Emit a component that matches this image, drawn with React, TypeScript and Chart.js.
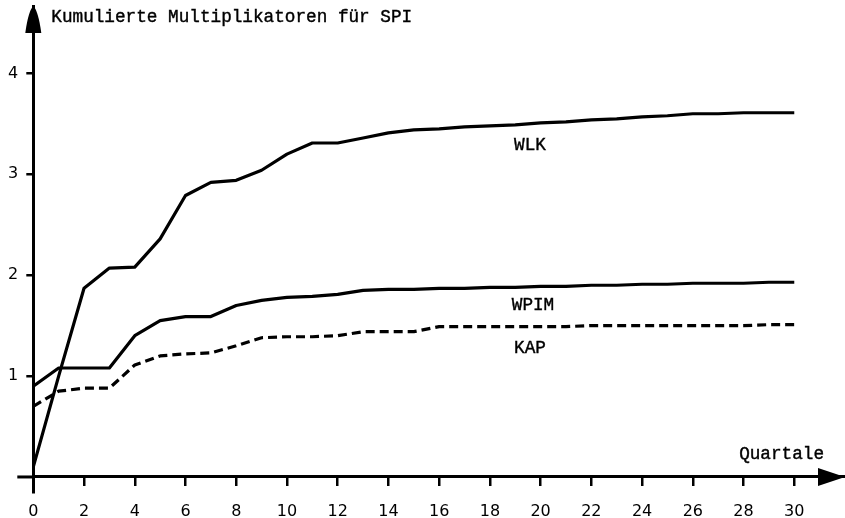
import React, { useEffect, useRef } from "react";
import { Chart, registerables } from "chart.js";

Chart.register(...registerables);

const quarters = [0, 1, 2, 3, 4, 5, 6, 7, 8, 9, 10, 11, 12, 13, 14, 15, 16, 17, 18, 19, 20, 21, 22, 23, 24, 25, 26, 27, 28, 29, 30];
const wlk = [0.1, 1.0, 1.87, 2.07, 2.08, 2.36, 2.79, 2.92, 2.94, 3.04, 3.2, 3.31, 3.31, 3.36, 3.41, 3.44, 3.45, 3.47, 3.48, 3.49, 3.51, 3.52, 3.54, 3.55, 3.57, 3.58, 3.6, 3.6, 3.61, 3.61, 3.61];
const wpim = [0.9, 1.08, 1.08, 1.08, 1.4, 1.55, 1.59, 1.59, 1.7, 1.75, 1.78, 1.79, 1.81, 1.85, 1.86, 1.86, 1.87, 1.87, 1.88, 1.88, 1.89, 1.89, 1.9, 1.9, 1.91, 1.91, 1.92, 1.92, 1.92, 1.93, 1.93];
const kap = [0.7, 0.85, 0.88, 0.88, 1.11, 1.2, 1.22, 1.23, 1.3, 1.38, 1.39, 1.39, 1.4, 1.44, 1.44, 1.44, 1.49, 1.49, 1.49, 1.49, 1.49, 1.49, 1.5, 1.5, 1.5, 1.5, 1.5, 1.5, 1.5, 1.51, 1.51];
const xTicks = [0, 2, 4, 6, 8, 10, 12, 14, 16, 18, 20, 22, 24, 26, 28, 30];
const yTicks = [1, 2, 3, 4];
const title = "Kumulierte Multiplikatoren für SPI";
const xTitle = "Quartale";
const seriesLabels = [
  { text: "WLK", x: 19.58, y: 3.29 },
  { text: "WPIM", x: 19.7, y: 1.7 },
  { text: "KAP", x: 19.58, y: 1.28 },
];

const MONO = '17.7px "Liberation Mono", "DejaVu Sans Mono", monospace';

const axisDecor = {
  id: "axisDecor",
  afterDraw(chart: any) {
    const ctx = chart.ctx;
    const xs = chart.scales.x;
    const ys = chart.scales.y;
    const ca = chart.chartArea;
    const x0 = xs.getPixelForValue(0);
    const y0 = ys.getPixelForValue(0);
    ctx.save();
    ctx.fillStyle = "#000";
    ctx.strokeStyle = "#000";
    // x-axis stub left of the origin
    ctx.lineWidth = 3;
    ctx.beginPath();
    ctx.moveTo(x0 - 16, y0);
    ctx.lineTo(x0, y0);
    ctx.stroke();
    // y-axis arrow
    ctx.beginPath();
    ctx.moveTo(x0, ca.top);
    ctx.quadraticCurveTo(x0 + 5, ca.top + 5, x0 + 8, ca.top + 27);
    ctx.lineTo(x0 - 8, ca.top + 27);
    ctx.quadraticCurveTo(x0 - 5, ca.top + 5, x0, ca.top);
    ctx.closePath();
    ctx.fill();
    // x-axis arrow
    ctx.beginPath();
    ctx.moveTo(ca.right, y0);
    ctx.lineTo(ca.right - 27, y0 - 9);
    ctx.lineTo(ca.right - 27, y0 + 9);
    ctx.closePath();
    ctx.fill();
    // texts
    ctx.font = MONO;
    ctx.lineWidth = 0.4;
    ctx.textBaseline = "middle";
    ctx.textAlign = "left";
    ctx.fillText(title, x0 + 18, ca.top + 11);
    ctx.strokeText(title, x0 + 18, ca.top + 11);
    ctx.textAlign = "center";
    const tx = xs.getPixelForValue(29.5);
    const ty = ys.getPixelForValue(0.22);
    ctx.fillText(xTitle, tx, ty);
    ctx.strokeText(xTitle, tx, ty);
    for (const l of seriesLabels) {
      const px = xs.getPixelForValue(l.x);
      const py = ys.getPixelForValue(l.y);
      ctx.fillText(l.text, px, py);
      ctx.strokeText(l.text, px, py);
    }
    ctx.restore();
  },
};

export default function App() {
  const ref = useRef<HTMLCanvasElement>(null);
  useEffect(() => {
    document.body.style.margin = "0";
    const line = (data: number[], dash: number[]) => ({
      data: quarters.map((q, i) => ({ x: q, y: data[i] })),
      borderColor: "#000",
      borderWidth: 3.2,
      borderDash: dash,
      pointRadius: 0,
      tension: 0,
      fill: false,
      borderJoinStyle: "round" as const,
    });
    const tickFont = { family: '"DejaVu Sans", sans-serif', size: 16 };
    const chart = new Chart(ref.current!, {
      type: "line",
      data: {
        datasets: [line(wlk, []), line(wpim, []), line(kap, [9, 5])],
      },
      options: {
        animation: false,
        responsive: false,
        layout: { padding: { left: 7.3, right: 0, top: 6, bottom: 26 } },
        plugins: { legend: { display: false }, tooltip: { enabled: false }, title: { display: false } },
        scales: {
          x: {
            type: "linear",
            min: 0,
            max: 32,
            position: { y: 0 } as any,
            afterBuildTicks: (axis: any) => {
              axis.ticks = xTicks.map((v) => ({ value: v }));
            },
            afterFit: (axis: any) => {
              axis.paddingLeft = 0;
              axis.paddingRight = 0;
            },
            grid: { drawOnChartArea: false, drawTicks: true, tickLength: 8, color: "#000", lineWidth: 2.5 },
            border: { display: true, color: "#000", width: 3 },
            ticks: { color: "#000", font: tickFont, padding: 17, maxRotation: 0, autoSkip: false },
          },
          y: {
            type: "linear",
            min: -0.149,
            max: 4.668,
            position: "left",
            afterBuildTicks: (axis: any) => {
              axis.ticks = yTicks.map((v) => ({ value: v }));
            },
            afterFit: (axis: any) => {
              axis.width = 26;
              axis.paddingTop = 0;
              axis.paddingBottom = 0;
            },
            grid: { drawOnChartArea: false, drawTicks: true, tickLength: 7, color: "#000", lineWidth: 2.5 },
            border: { display: true, color: "#000", width: 3 },
            ticks: { color: "#000", font: tickFont, padding: 8 },
          },
        },
      },
      plugins: [axisDecor],
    });
    return () => chart.destroy();
  }, []);
  return (
    <div style={{ width: 845, height: 518, background: "#fff" }}>
      <canvas ref={ref} width={845} height={518} style={{ display: "block" }} />
    </div>
  );
}
